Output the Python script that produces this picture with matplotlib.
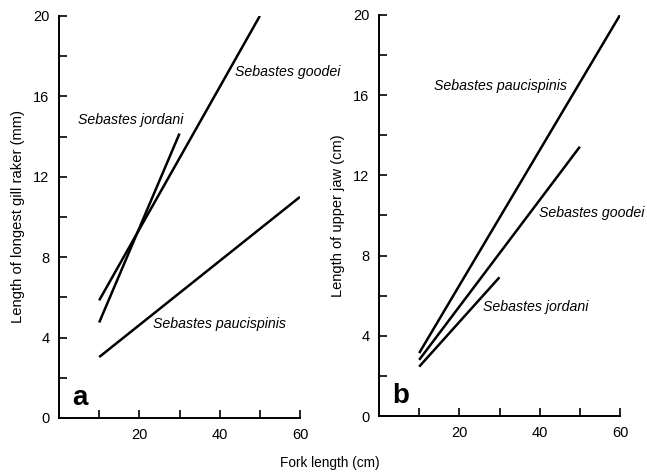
import matplotlib
matplotlib.use("Agg")
import matplotlib.pyplot as plt

plt.rcParams['font.family'] = ['Liberation Sans', 'DejaVu Sans']

# Panel a: gill raker length (mm) vs fork length (cm)
a_goodei_x = [10, 50]
a_goodei_y = [5.85, 20.0]
a_jordani_x = [10, 30]
a_jordani_y = [4.75, 14.15]
a_pauci_x = [10, 60]
a_pauci_y = [3.03, 11.0]

# Panel b: upper jaw length (cm) vs fork length (cm)
b_pauci_x = [10, 60]
b_pauci_y = [3.14, 20.0]
b_goodei_x = [10, 50]
b_goodei_y = [2.8, 13.43]
b_jordani_x = [10, 30]
b_jordani_y = [2.46, 6.92]

x_ticks = [10, 20, 30, 40, 50, 60]
x_labels = ['', '20', '', '40', '', '60']
y_ticks = [0, 2, 4, 6, 8, 10, 12, 14, 16, 18, 20]
y_labels = ['0', '', '4', '', '8', '', '12', '', '16', '', '20']

fig = plt.figure(figsize=(6.47, 4.73), dpi=100)
axa = fig.add_axes([0.0912, 0.1163, 0.3725, 0.85])
axb = fig.add_axes([0.5858, 0.1205, 0.3725, 0.8478])

def style(ax):
    ax.set_xlim(0, 60)
    ax.set_ylim(0, 20)
    for s in ['top', 'right']:
        ax.spines[s].set_visible(False)
    for s in ['left', 'bottom']:
        ax.spines[s].set_linewidth(1.4)
    ax.set_xticks(x_ticks)
    ax.set_xticklabels(x_labels)
    ax.set_yticks(y_ticks)
    ax.set_yticklabels(y_labels)
    ax.tick_params(direction='in', length=6, width=1.2, labelsize=10.5, pad=7)
    ax.patch.set_alpha(0)

lw = 1.8
fs = 10.2
axa.plot(a_goodei_x, a_goodei_y, color='black', lw=lw, solid_capstyle='butt')
axa.plot(a_jordani_x, a_jordani_y, color='black', lw=lw, solid_capstyle='butt')
axa.plot(a_pauci_x, a_pauci_y, color='black', lw=lw, solid_capstyle='butt')
style(axa)
axa.set_ylabel('Length of longest gill raker (mm)', fontsize=10.6, labelpad=6)
axa.text(43.7, 17.2, 'Sebastes goodei', style='italic', fontsize=fs, va='center', ha='left', clip_on=False)
axa.text(4.7, 14.8, 'Sebastes jordani', style='italic', fontsize=fs, va='center', ha='left')
axa.text(23.5, 4.7, 'Sebastes paucispinis', style='italic', fontsize=fs, va='center', ha='left')
axa.text(3.3, 0.35, 'a', fontsize=20, fontweight='bold', va='bottom', ha='left')

axb.plot(b_pauci_x, b_pauci_y, color='black', lw=lw, solid_capstyle='butt')
axb.plot(b_goodei_x, b_goodei_y, color='black', lw=lw, solid_capstyle='butt')
axb.plot(b_jordani_x, b_jordani_y, color='black', lw=lw, solid_capstyle='butt')
style(axb)
axb.set_ylabel('Length of upper jaw (cm)', fontsize=10.5, labelpad=6)
axb.text(13.7, 16.45, 'Sebastes paucispinis', style='italic', fontsize=fs, va='center', ha='left')
axb.text(39.8, 10.1, 'Sebastes goodei', style='italic', fontsize=fs, va='center', ha='left', clip_on=False)
axb.text(25.9, 5.45, 'Sebastes jordani', style='italic', fontsize=fs, va='center', ha='left')
axb.text(3.3, 0.35, 'b', fontsize=20, fontweight='bold', va='bottom', ha='left')

fig.text(0.51, 0.021, 'Fork length (cm)', fontsize=9.8, ha='center', va='center')

fig.savefig('out.png', dpi=100)
